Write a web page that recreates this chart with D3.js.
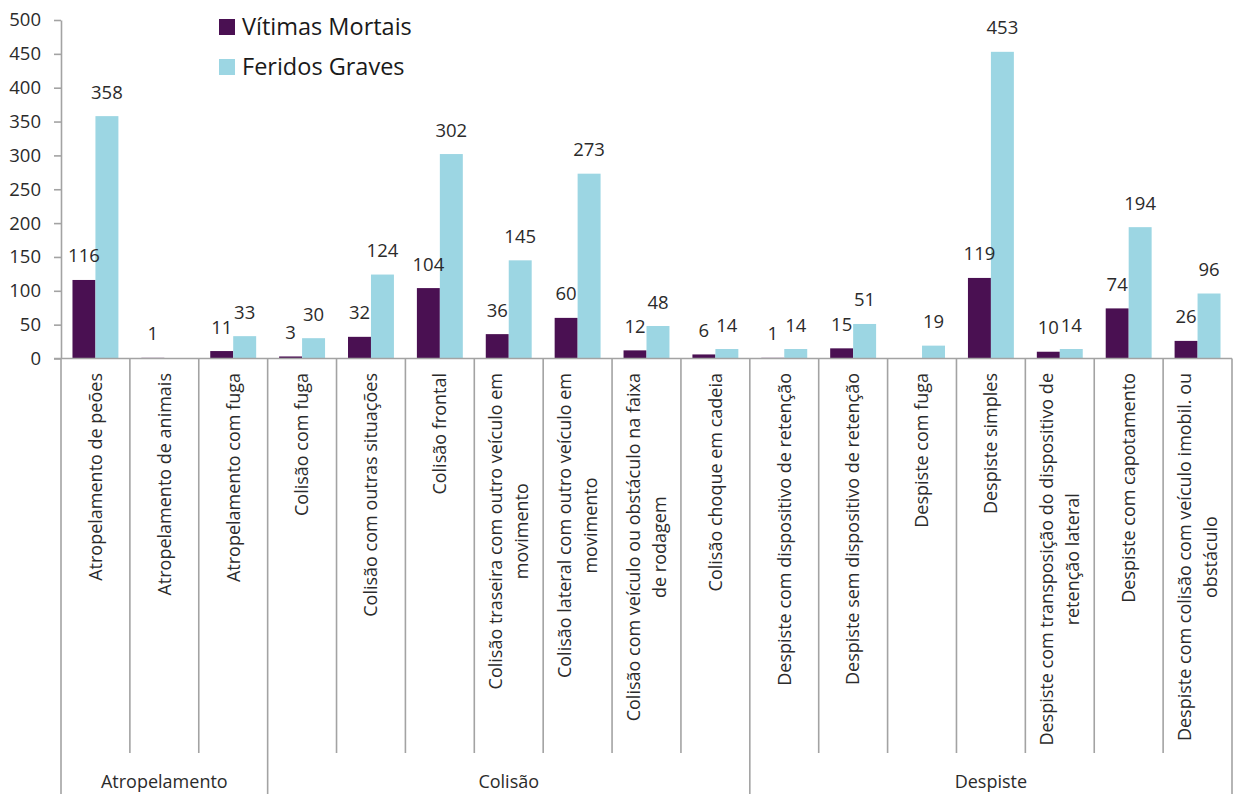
<!DOCTYPE html>
<html>
<head>
<meta charset="utf-8">
<script src="https://cdn.jsdelivr.net/npm/d3@7"></script>
<style>
  html, body { margin: 0; padding: 0; background: #fff; }
  svg { display: block; font-family: "Open Sans", "Noto Sans", sans-serif; }
</style>
</head>
<body>
<svg id="chart" width="1234" height="794"></svg>
<script>
// ---- data ----
const categories = [
  "Atropelamento de peões",
  "Atropelamento de animais",
  "Atropelamento com fuga",
  "Colisão com fuga",
  "Colisão com outras situações",
  "Colisão frontal",
  "Colisão traseira com outro veículo em\nmovimento",
  "Colisão lateral com outro veículo em\nmovimento",
  "Colisão com veículo ou obstáculo na faixa\nde rodagem",
  "Colisão choque em cadeia",
  "Despiste com dispositivo de retenção",
  "Despiste sem dispositivo de retenção",
  "Despiste com fuga",
  "Despiste simples",
  "Despiste com transposição do dispositivo de\nretenção lateral",
  "Despiste com capotamento",
  "Despiste com colisão com veículo imobil. ou\nobstáculo"
];
const groupNames = ["Atropelamento", "Colisão", "Despiste"];
const groupSizes = [3, 7, 7];
const seriesNames = ["Vítimas Mortais", "Feridos Graves"];
const vitimasMortais = [116, 1, 11, 3, 32, 104, 36, 60, 12, 6, 1, 15, null, 119, 10, 74, 26];
const feridosGraves  = [358, null, 33, 30, 124, 302, 145, 273, 48, 14, 14, 51, 19, 453, 14, 194, 96];
const yTicks = [0, 50, 100, 150, 200, 250, 300, 350, 400, 450, 500];

// ---- styles ----
const colors = ["#4a1052", "#9cd6e3"];
const axisColor = "#a3a3a3";
const textColor = "#2b2b2b";

const svg = d3.select("#chart");
const mLeft = 61, mRight = 1232, mTop = 20, mBottom = 358.5;

const x = d3.scaleBand().domain(d3.range(categories.length)).range([mLeft, mRight]).paddingInner(0).paddingOuter(0);
const bw = x.bandwidth();
const xs = d3.scaleBand().domain(seriesNames).range([0, bw]).paddingInner(0).paddingOuter(0.5);
const y = d3.scaleLinear().domain([0, 500]).range([mBottom, mTop]);

// y axis
const yAxis = svg.append("g")
  .attr("transform", `translate(${mLeft},0)`)
  .call(d3.axisLeft(y).tickValues(yTicks).tickSize(7).tickPadding(13).tickSizeOuter(0));
yAxis.select(".domain").attr("stroke", axisColor).attr("stroke-width", 1.6);
yAxis.selectAll(".tick line").attr("stroke", axisColor).attr("stroke-width", 1.6);
yAxis.selectAll(".tick text").attr("fill", textColor).style("font-size", "18.5px");
yAxis.attr("font-family", null).attr("font-size", null);

// bars
const seriesData = [vitimasMortais, feridosGraves];
const barLayer = svg.append("g");
const labelLayer = svg.append("g");
seriesData.forEach((vals, si) => {
  const items = vals.map((v, i) => ({ i, v })).filter(d => d.v != null);
  barLayer.append("g").selectAll("rect").data(items).join("rect")
    .attr("x", d => x(d.i) + xs(seriesNames[si]))
    .attr("width", xs.bandwidth())
    .attr("y", d => y(d.v))
    .attr("height", d => y(0) - y(d.v))
    .attr("fill", colors[si]);
  labelLayer.append("g").selectAll("text").data(items).join("text")
    .attr("x", d => x(d.i) + xs(seriesNames[si]) + xs.bandwidth() / 2)
    .attr("y", d => y(d.v) - 17.5)
    .attr("text-anchor", "middle")
    .attr("fill", textColor)
    .style("font-size", "18.5px")
    .text(d => d.v);
});

// x axis baseline
svg.append("line")
  .attr("x1", mLeft - 7).attr("x2", mRight)
  .attr("y1", y(0)).attr("y2", y(0))
  .attr("stroke", axisColor).attr("stroke-width", 1.6);

// category separators
const groupStarts = [0];
groupSizes.forEach((s, k) => groupStarts.push(groupStarts[k] + s));
const boundaries = d3.range(categories.length + 1);
svg.append("g").selectAll("line").data(boundaries).join("line")
  .attr("x1", b => b < categories.length ? x(b) : mRight)
  .attr("x2", b => b < categories.length ? x(b) : mRight)
  .attr("y1", y(0))
  .attr("y2", b => groupStarts.includes(b) ? 794 : 753)
  .attr("stroke", axisColor).attr("stroke-width", 1.6);

// category labels
const labG = svg.append("g").selectAll("g").data(categories).join("g")
  .attr("transform", (d, i) => `translate(${x(i) + bw / 2},373) rotate(-90)`);
labG.each(function (d) {
  const g = d3.select(this);
  const lines = d.split("\n");
  const n = lines.length;
  const lh = 26.5;
  const texts = lines.map((ln, k) => g.append("text")
    .attr("y", (k - (n - 1) / 2) * lh)
    .attr("dy", "0.35em")
    .attr("fill", textColor)
    .style("font-size", "18px")
    .text(ln));
  const maxLen = d3.max(texts, t => t.node().getComputedTextLength());
  texts.forEach(t => t.attr("x", -maxLen / 2).attr("text-anchor", "middle"));
});

// group labels
svg.append("g").selectAll("text").data(groupNames).join("text")
  .attr("x", (d, k) => {
    const a = x(groupStarts[k]);
    const b = groupStarts[k + 1] < categories.length ? x(groupStarts[k + 1]) : mRight;
    return (a + b) / 2;
  })
  .attr("y", 788)
  .attr("text-anchor", "middle")
  .attr("fill", textColor)
  .style("font-size", "18px")
  .text(d => d);

// legend
const leg = svg.append("g").selectAll("g").data(seriesNames).join("g")
  .attr("transform", (d, i) => `translate(219,${19 + i * 40})`);
leg.append("rect").attr("width", 16).attr("height", 16).attr("fill", (d, i) => colors[i]);
leg.append("text").attr("x", 23).attr("y", 16)
  .attr("fill", "#1a1a1a")
  .style("font-size", "23.5px")
  .text(d => d);
</script>
</body>
</html>
